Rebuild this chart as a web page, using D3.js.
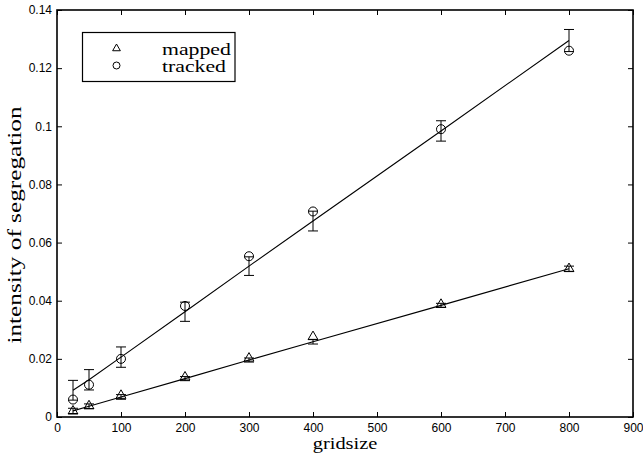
<!DOCTYPE html>
<html>
<head>
<meta charset="utf-8">
<script src="https://cdn.jsdelivr.net/npm/d3@7"></script>
<style>
  html, body { margin: 0; padding: 0; background: #fff; }
  svg { display: block; }
</style>
</head>
<body>
<svg id="chart" width="643" height="456"></svg>
<script>
// Grid sizes sampled
const gridsize = [25, 50, 100, 200, 300, 400, 600, 800];

// Mapped method: measured sample, mean (fit line) and error half-width
const mappedSample = [0.0020, 0.0038, 0.0074, 0.0137, 0.0202, 0.0276, 0.0387, 0.0510];
const mappedMean   = [0.0021, 0.0037, 0.0069, 0.0132, 0.0196, 0.0259, 0.0384, 0.0510];
const mappedErr    = [0.0009, 0.0008, 0.0008, 0.0007, 0.0007, 0.0008, 0.0007, 0.0009];

// Tracked method: measured sample, mean (fit line) and error half-width
const trackedSample = [0.0060, 0.0111, 0.0200, 0.0382, 0.0553, 0.0707, 0.0990, 0.1260];
const trackedMean   = [0.0092, 0.0128, 0.0206, 0.0362, 0.0519, 0.0674, 0.0984, 0.1295];
const trackedErr    = [0.0034, 0.0035, 0.0035, 0.0033, 0.0032, 0.0034, 0.0035, 0.0038];

const xTicks = [0, 100, 200, 300, 400, 500, 600, 700, 800, 900];
const yTicks = [0, 0.02, 0.04, 0.06, 0.08, 0.1, 0.12, 0.14];

const legendLabels = ["mapped", "tracked"];

const margin = { left: 57, right: 10, top: 10, bottom: 39 };
const W = 643, H = 456;
const svg = d3.select("#chart");

const x = d3.scaleLinear().domain([0, 900]).range([margin.left, W - margin.right]);
const y = d3.scaleLinear().domain([0, 0.14]).range([H - margin.bottom, margin.top]);

const sansFont = "'Liberation Sans', Arial, Helvetica, sans-serif";
const serifFont = "'Liberation Serif', 'Times New Roman', Times, serif";

// Axes with inward ticks on all four sides
const tickLen = 5;
const bottomAxis = d3.axisBottom(x).tickValues(xTicks).tickSizeInner(-tickLen).tickSizeOuter(0)
  .tickPadding(6).tickFormat(d3.format("d"));
const leftAxis = d3.axisLeft(y).tickValues(yTicks).tickSizeInner(-tickLen).tickSizeOuter(0)
  .tickPadding(5).tickFormat(d => d === 0 ? "0" : String(+d.toFixed(2)));
const topAxis = d3.axisTop(x).tickValues(xTicks).tickSizeInner(-tickLen).tickSizeOuter(0).tickFormat("");
const rightAxis = d3.axisRight(y).tickValues(yTicks).tickSizeInner(-tickLen).tickSizeOuter(0).tickFormat("");

function styleAxis(g) {
  g.select(".domain").remove();
  g.selectAll(".tick line").attr("stroke", "#000").attr("stroke-width", 1);
  g.selectAll(".tick text").attr("fill", "#000")
    .style("font-family", sansFont).style("font-size", "12px");
}

svg.append("g").attr("transform", `translate(0,${y(0)})`).call(bottomAxis).call(styleAxis);
svg.append("g").attr("transform", `translate(${x(0)},0)`).call(leftAxis).call(styleAxis);
svg.append("g").attr("transform", `translate(0,${y(0.14)})`).call(topAxis).call(styleAxis);
svg.append("g").attr("transform", `translate(${x(900)},0)`).call(rightAxis).call(styleAxis);

// Plot frame
svg.append("rect")
  .attr("x", x(0)).attr("y", y(0.14))
  .attr("width", x(900) - x(0)).attr("height", y(0) - y(0.14))
  .attr("fill", "none").attr("stroke", "#000").attr("stroke-width", 1.6);

// Fit lines through the means
const line = d3.line().x(d => x(d[0])).y(d => y(d[1]));
[mappedMean, trackedMean].forEach(means => {
  svg.append("path")
    .datum(gridsize.map((g, i) => [g, means[i]]))
    .attr("d", line)
    .attr("fill", "none").attr("stroke", "#000").attr("stroke-width", 1.1);
});

// Error bars centred on the means
function errorBars(means, errs) {
  const capW = 5;
  const g = svg.append("g").attr("stroke", "#000").attr("stroke-width", 1);
  gridsize.forEach((gs, i) => {
    const cx = x(gs), y1 = y(means[i] + errs[i]), y0 = y(means[i] - errs[i]);
    g.append("line").attr("x1", cx).attr("x2", cx).attr("y1", y1).attr("y2", y0);
    g.append("line").attr("x1", cx - capW).attr("x2", cx + capW).attr("y1", y1).attr("y2", y1);
    g.append("line").attr("x1", cx - capW).attr("x2", cx + capW).attr("y1", y0).attr("y2", y0);
  });
}
errorBars(mappedMean, mappedErr);
errorBars(trackedMean, trackedErr);

// Markers
const triangle = d3.symbol().type(d3.symbolTriangle).size(42);
svg.append("g").selectAll("path")
  .data(gridsize.map((g, i) => [g, mappedSample[i]]))
  .join("path")
  .attr("d", triangle)
  .attr("transform", d => `translate(${x(d[0])},${y(d[1])})`)
  .attr("fill", "none").attr("stroke", "#000").attr("stroke-width", 1);

svg.append("g").selectAll("circle")
  .data(gridsize.map((g, i) => [g, trackedSample[i]]))
  .join("circle")
  .attr("cx", d => x(d[0])).attr("cy", d => y(d[1])).attr("r", 4.5)
  .attr("fill", "none").attr("stroke", "#000").attr("stroke-width", 1);

// Axis titles
svg.append("text")
  .attr("transform", `translate(${(x(0) + x(900)) / 2},449) scale(1.2,1)`)
  .attr("text-anchor", "middle")
  .style("font-family", serifFont).style("font-size", "17px")
  .text("gridsize");

svg.append("text")
  .attr("transform", "translate(21,225) rotate(-90) scale(1.33,1)")
  .attr("text-anchor", "middle")
  .style("font-family", serifFont).style("font-size", "19px")
  .text("intensity of segregation");

// Legend
const legend = svg.append("g");
legend.append("rect")
  .attr("x", 82.5).attr("y", 32.5).attr("width", 152.5).attr("height", 49)
  .attr("fill", "#fff").attr("stroke", "#000").attr("stroke-width", 1.2);
legend.append("path")
  .attr("d", d3.symbol().type(d3.symbolTriangle).size(26)())
  .attr("transform", "translate(116.5,48.5)")
  .attr("fill", "none").attr("stroke", "#000").attr("stroke-width", 1);
legend.append("circle")
  .attr("cx", 116.5).attr("cy", 65.5).attr("r", 3.5)
  .attr("fill", "none").attr("stroke", "#000").attr("stroke-width", 1);
legendLabels.forEach((lab, i) => {
  legend.append("text")
    .attr("transform", `translate(162,${54.5 + i * 17}) scale(1.28,1)`)
    .style("font-family", serifFont).style("font-size", "17px")
    .text(lab);
});
</script>
</body>
</html>
